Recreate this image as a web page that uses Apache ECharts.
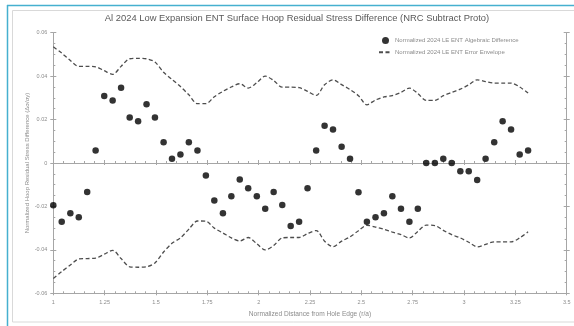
<!DOCTYPE html>
<html>
<head>
<meta charset="utf-8">
<script src="https://cdn.jsdelivr.net/npm/echarts@6/dist/echarts.min.js"></script>
<style>
html,body{margin:0;padding:0;background:#fff;}
#chart{width:574px;height:326px;}
</style>
</head>
<body>
<div id="chart"></div>
<script>
const titleText = 'Al 2024 Low Expansion ENT Surface Hoop Residual Stress Difference (NRC Subtract Proto)';
const xAxisTitle = 'Normalized Distance from Hole Edge (r/a)';
const yAxisTitle = 'Normalized Hoop Residual Stress Difference (\u0394\u03c3/\u03c3y)';
const diffName = 'Normalized 2024 LE ENT Algebraic Difference';
const envName = 'Normalized 2024 LE ENT Error Envelope';

const xTicks = [1, 1.25, 1.5, 1.75, 2, 2.25, 2.5, 2.75, 3, 3.25, 3.5];
const yTicks = [-0.06, -0.04, -0.02, 0, 0.02, 0.04, 0.06];

const xVals = [1.000,1.041,1.083,1.124,1.165,1.206,1.248,1.289,1.330,1.372,1.413,1.454,1.495,1.537,1.578,1.619,1.660,1.702,1.743,1.784,1.826,1.867,1.908,1.949,1.991,2.032,2.073,2.115,2.156,2.197,2.238,2.280,2.321,2.362,2.404,2.445,2.486,2.527,2.569,2.610,2.651,2.693,2.734,2.775,2.816,2.858,2.899,2.940,2.982,3.023,3.064,3.105,3.147,3.188,3.229,3.271,3.312];

const diffVals = [-0.0195,-0.0270,-0.0231,-0.0250,-0.0133,0.0057,0.0308,0.0288,0.0347,0.0210,0.0192,0.0270,0.0210,0.0095,0.0020,0.0039,0.0095,0.0057,-0.0058,-0.0173,-0.0231,-0.0153,-0.0076,-0.0116,-0.0153,-0.0211,-0.0133,-0.0193,-0.0290,-0.0270,-0.0116,0.0057,0.0172,0.0154,0.0075,0.0020,-0.0135,-0.0270,-0.0250,-0.0231,-0.0153,-0.0211,-0.0270,-0.0211,0,0,0.0020,0,-0.0038,-0.0038,-0.0078,0.0020,0.0095,0.0192,0.0154,0.0039,0.0057];

const envUpper = [0.0535,0.0506,0.0472,0.0445,0.0445,0.0443,0.0425,0.0408,0.0445,0.0480,0.0482,0.0480,0.0465,0.0418,0.0385,0.0352,0.0314,0.0273,0.0273,0.0305,0.0330,0.0350,0.0365,0.0345,0.0370,0.0400,0.0380,0.0349,0.0349,0.0347,0.0330,0.0311,0.0360,0.0383,0.0361,0.0338,0.0310,0.0268,0.0290,0.0304,0.0310,0.0325,0.0345,0.0320,0.0288,0.0288,0.0310,0.0325,0.0340,0.0360,0.0383,0.0375,0.0368,0.0368,0.0368,0.0350,0.0322];

const envLower = [-0.0532,-0.0500,-0.0470,-0.0442,-0.0440,-0.0438,-0.0420,-0.0402,-0.0440,-0.0478,-0.0480,-0.0478,-0.0460,-0.0410,-0.0370,-0.0345,-0.0305,-0.0267,-0.0268,-0.0300,-0.0322,-0.0345,-0.0359,-0.0343,-0.0372,-0.0400,-0.0380,-0.0345,-0.0343,-0.0343,-0.0325,-0.0311,-0.0360,-0.0385,-0.0360,-0.0340,-0.0312,-0.0287,-0.0295,-0.0305,-0.0318,-0.0330,-0.0345,-0.0315,-0.0286,-0.0288,-0.0310,-0.0330,-0.0345,-0.0365,-0.0386,-0.0375,-0.0363,-0.0363,-0.0363,-0.0345,-0.0317];

const FONT = 'Liberation Sans';
const AXIS_COLOR = '#a6a6a6';
const LABEL_COLOR = '#8c8c8c';
const ENV_COLOR = '#4d4d4d';

const xMin = xTicks[0], xMax = xTicks[xTicks.length - 1], xInt = xTicks[1] - xTicks[0];
const yMin = yTicks[0], yMax = yTicks[yTicks.length - 1], yInt = 0.02;

function xAxisBase(extra) {
  return Object.assign({
    type: 'value', min: xMin, max: xMax, interval: xInt, position: 'bottom',
    splitLine: { show: false },
    axisLabel: { show: false },
    axisLine: { show: false, onZero: false },
    axisTick: { show: false },
    minorTick: { show: false }
  }, extra);
}
function yAxisBase(extra) {
  return Object.assign({
    type: 'value', min: yMin, max: yMax, interval: yInt,
    splitLine: { show: false },
    axisLabel: { show: false },
    axisLine: { show: false, onZero: false },
    axisTick: { show: false },
    minorTick: { show: false }
  }, extra);
}

const chart = echarts.init(document.getElementById('chart'), null, { renderer: 'canvas' });

const option = {
  backgroundColor: '#ffffff',
  animation: false,
  title: {
    text: titleText,
    left: 292, top: 9, textAlign: 'center',
    textStyle: { fontFamily: FONT, fontSize: 9.4, fontWeight: 'normal', color: '#595959' }
  },
  legend: {
    orient: 'vertical', left: 378, top: 37, padding: 0,
    itemWidth: 13, itemHeight: 7, itemGap: 5.3,
    data: [
      { name: diffName, icon: 'circle' },
      { name: envName, itemStyle: { opacity: 0 } }
    ],
    textStyle: { fontFamily: FONT, fontSize: 6, color: LABEL_COLOR, padding: [0, 0, 0, -2] }
  },
  grid: { left: 53.3, right: 7.3, top: 32.7, bottom: 32.7 },
  xAxis: [
    xAxisBase({
      axisLabel: {
        show: true, fontFamily: FONT, fontSize: 5.5, color: LABEL_COLOR, margin: 6,
        formatter: v => String(xTicks.find(t => Math.abs(t - v) < 1e-9) ?? v)
      },
      axisLine: { show: true, onZero: false, lineStyle: { color: AXIS_COLOR, width: 1 } },
      axisTick: { show: true, inside: true, length: 3, lineStyle: { color: AXIS_COLOR } },
      minorTick: { show: true, splitNumber: 5, length: 2, lineStyle: { color: AXIS_COLOR } },
      name: xAxisTitle, nameLocation: 'middle', nameGap: 17,
      nameTextStyle: { fontFamily: FONT, fontSize: 6.6, color: LABEL_COLOR }
    }),
    xAxisBase({
      axisTick: { show: true, inside: false, length: 2, lineStyle: { color: AXIS_COLOR } }
    }),
    xAxisBase({
      axisLine: { show: true, onZero: true, onZeroAxisIndex: 0, lineStyle: { color: AXIS_COLOR, width: 1 } },
      axisTick: { show: true, inside: true, length: 3, lineStyle: { color: AXIS_COLOR } },
      minorTick: { show: true, splitNumber: 5, length: 2, lineStyle: { color: AXIS_COLOR } }
    }),
    xAxisBase({
      axisLine: { show: false, onZero: true, onZeroAxisIndex: 0 },
      axisTick: { show: true, inside: false, length: 2, lineStyle: { color: AXIS_COLOR } }
    })
  ],
  yAxis: [
    yAxisBase({
      position: 'left',
      axisLabel: {
        show: true, fontFamily: FONT, fontSize: 5.5, color: LABEL_COLOR, margin: 6,
        formatter: v => {
          const t = yTicks.find(t => Math.abs(t - v) < 1e-9);
          return t === undefined ? '' : String(t);
        }
      },
      axisLine: { show: true, onZero: false, lineStyle: { color: AXIS_COLOR, width: 1 } },
      axisTick: { show: true, inside: true, length: 3, lineStyle: { color: AXIS_COLOR } },
      minorTick: { show: true, splitNumber: 4, length: 2, lineStyle: { color: AXIS_COLOR } },
      name: yAxisTitle, nameLocation: 'middle', nameGap: 23, nameRotate: 90,
      nameMoveOverlap: false,
      nameTextStyle: { fontFamily: FONT, fontSize: 6, color: LABEL_COLOR }
    }),
    yAxisBase({
      position: 'left',
      axisTick: { show: true, inside: false, length: 3, lineStyle: { color: AXIS_COLOR } }
    }),
    yAxisBase({
      position: 'right',
      axisLine: { show: true, onZero: false, lineStyle: { color: AXIS_COLOR, width: 1 } },
      axisTick: { show: true, inside: true, length: 3, lineStyle: { color: AXIS_COLOR } },
      minorTick: { show: true, splitNumber: 4, length: 2, lineStyle: { color: AXIS_COLOR } }
    }),
    yAxisBase({
      position: 'right',
      axisTick: { show: true, inside: false, length: 3, lineStyle: { color: AXIS_COLOR } }
    })
  ],
  graphic: [
    { type: 'rect', silent: true, z: -10,
      shape: { x: 12.5, y: 10.5, width: 570, height: 311.5 },
      style: { fill: 'none', stroke: '#d9d9d9', lineWidth: 1 } },
    { type: 'line', silent: true, z: 100,
      shape: { x1: 7, y1: 5.5, x2: 574, y2: 5.5 },
      style: { stroke: '#45b0cf', lineWidth: 1.5 } },
    { type: 'line', silent: true, z: 100,
      shape: { x1: 7.5, y1: 5, x2: 7.5, y2: 326 },
      style: { stroke: '#45b0cf', lineWidth: 1.5 } }
  ],
  series: [
    {
      name: envName, type: 'line', xAxisIndex: 0, yAxisIndex: 0,
      data: xVals.map((x, i) => [x, envUpper[i]]),
      showSymbol: false, symbol: 'none', smooth: 0.3,
      lineStyle: { color: ENV_COLOR, width: 1.3, type: [4, 2.5] },
      itemStyle: { color: ENV_COLOR }, z: 3
    },
    {
      name: envName, type: 'line', xAxisIndex: 0, yAxisIndex: 0,
      data: xVals.map((x, i) => [x, envLower[i]]),
      showSymbol: false, symbol: 'none', smooth: 0.3,
      lineStyle: { color: ENV_COLOR, width: 1.3, type: [4, 2.5] },
      itemStyle: { color: ENV_COLOR }, z: 3
    },
    {
      name: diffName, type: 'scatter', xAxisIndex: 0, yAxisIndex: 0,
      data: xVals.map((x, i) => [x, diffVals[i]]),
      symbol: 'circle', symbolSize: 6.5,
      itemStyle: { color: '#000000' }, z: 4
    }
  ]
};
chart.setOption(option);
</script>
</body>
</html>
